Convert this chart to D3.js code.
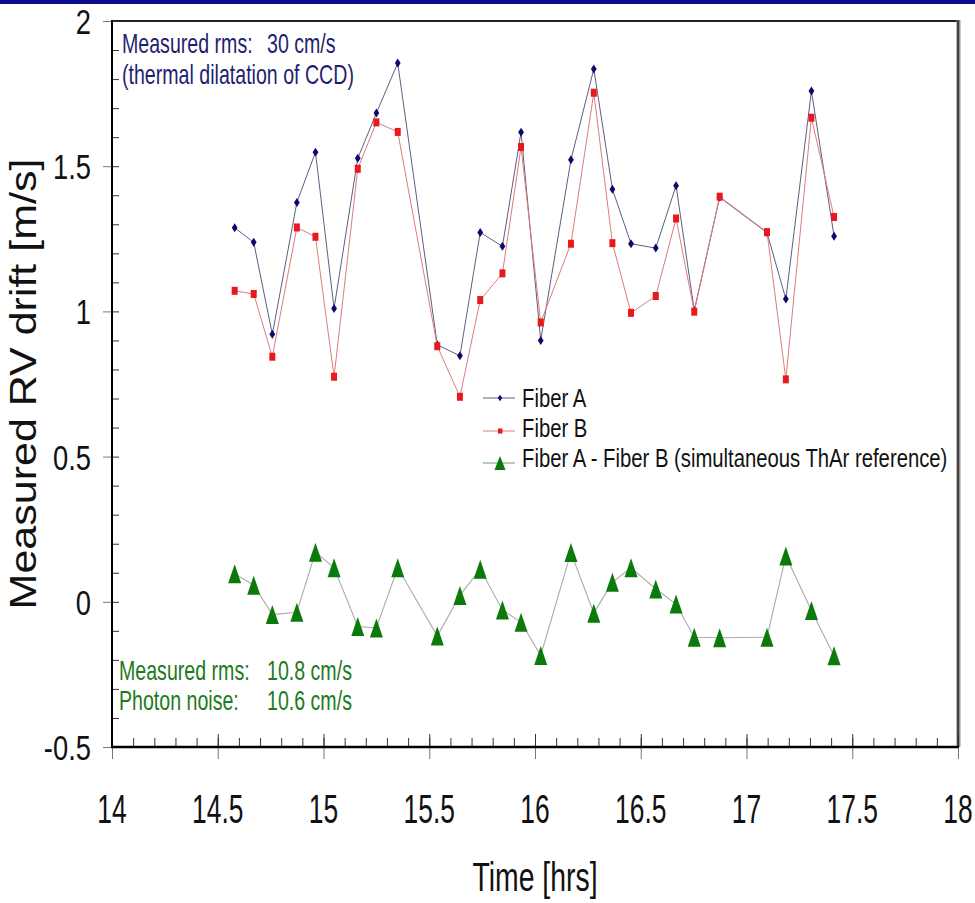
<!DOCTYPE html>
<html><head><meta charset="utf-8">
<script src="https://cdn.jsdelivr.net/npm/d3@7"></script>
<style>
body{margin:0;background:#fff}
svg{display:block}
text{font-family:"Liberation Sans",Arial,Helvetica,sans-serif}
</style>
</head><body>
<svg id="c" width="975" height="903"></svg>
<script>
// ---- data ----
const times = [14.580,14.670,14.758,14.874,14.962,15.050,15.162,15.250,15.351,15.538,15.645,15.741,15.846,15.934,16.027,16.170,16.278,16.366,16.454,16.571,16.667,16.753,16.873,17.097,17.186,17.307,17.414];
const fiberA = [1.288,1.238,0.921,1.375,1.548,1.010,1.527,1.683,1.855,0.885,0.847,1.272,1.224,1.617,0.900,1.522,1.835,1.421,1.233,1.218,1.433,1.003,1.393,1.271,1.043,1.759,1.259];
const fiberB = [1.071,1.060,0.844,1.289,1.257,0.775,1.491,1.651,1.618,0.880,0.706,1.039,1.131,1.566,0.962,1.233,1.753,1.235,0.995,1.053,1.320,0.999,1.395,1.273,0.766,1.667,1.325];
const diffAB = [0.097,0.057,-0.044,-0.036,0.171,0.117,-0.085,-0.090,0.117,-0.118,0.022,0.112,-0.028,-0.070,-0.185,0.170,-0.039,0.067,0.117,0.044,-0.008,-0.122,-0.124,-0.122,0.158,-0.030,-0.186];
const xTicks = [14,14.5,15,15.5,16,16.5,17,17.5,18];
const xTickLabels = ["14","14.5","15","15.5","16","16.5","17","17.5","18"];
const yTicks = [-0.5,0,0.5,1,1.5,2];
const yTickLabels = ["-0.5","0","0.5","1","1.5","2"];
const seriesNames = ["Fiber A","Fiber B","Fiber A - Fiber B (simultaneous ThAr reference)"];
const xTitle = "Time [hrs]";
const yTitle = "Measured RV drift [m/s]";
const noteTop = [["Measured rms:","30 cm/s"],["(thermal dilatation of CCD)",""]];
const noteBottom = [["Measured rms:","10.8 cm/s"],["Photon noise:","10.6 cm/s"]];

// ---- setup ----
const svg = d3.select("#c");
const L = 112, R = 958, T = 21, B = 747;
const x = d3.scaleLinear().domain([14,18]).range([L,R]);
const y = d3.scaleLinear().domain([-0.5,2]).range([B,T]);

function txt(g, px, py, s, size, sx, anchor, fill, extra){
  return g.append("text")
    .attr("transform",`translate(${px},${py}) scale(${sx},1)${extra||""}`)
    .attr("font-size",size).attr("text-anchor",anchor).attr("fill",fill).text(s);
}

// top banner bar
svg.append("rect").attr("x",0).attr("y",0).attr("width",975).attr("height",4).attr("fill","#0b0b8c");

// frame
svg.append("line").attr("x1",L).attr("x2",R).attr("y1",T).attr("y2",T).attr("stroke","#222").attr("stroke-width",2);
svg.append("line").attr("x1",R+0.5).attr("x2",R+0.5).attr("y1",T-1).attr("y2",B).attr("stroke","#9a9a9a").attr("stroke-width",4);
svg.append("line").attr("x1",R).attr("x2",R).attr("y1",T-1).attr("y2",B).attr("stroke","#444").attr("stroke-width",2.2);

// x axis
const minorX = d3.range(14,18.0001,0.1).map(v=>+v.toFixed(1));
svg.append("g").attr("transform",`translate(0,${B})`)
  .call(d3.axisTop(x).tickValues(minorX).tickSize(9).tickFormat("").tickSizeOuter(0))
  .call(g=>g.select(".domain").remove()).selectAll("line").attr("stroke","#333").attr("stroke-width",1);
svg.append("g").attr("transform",`translate(0,${B})`)
  .call(d3.axisTop(x).tickValues(xTicks).tickSize(13).tickFormat("").tickSizeOuter(0))
  .call(g=>g.select(".domain").remove()).selectAll("line").attr("stroke","#333").attr("stroke-width",1);
const xAx = svg.append("g").attr("transform",`translate(0,${B})`)
  .call(d3.axisBottom(x).tickValues(xTicks).tickSize(12).tickFormat("").tickSizeOuter(0));
xAx.select(".domain").remove();
xAx.selectAll("line").attr("stroke","#777").attr("stroke-width",1);

// y axis
const minorY = d3.range(-0.5,2.0001,0.1).map(v=>+v.toFixed(1));
svg.append("g").attr("transform",`translate(${L},0)`)
  .call(d3.axisRight(y).tickValues(minorY).tickSize(7).tickFormat("").tickSizeOuter(0))
  .call(g=>g.select(".domain").remove()).selectAll("line").attr("stroke","#333").attr("stroke-width",1);
const yAx = svg.append("g").attr("transform",`translate(${L},0)`)
  .call(d3.axisLeft(y).tickValues(yTicks).tickSize(9).tickFormat("").tickSizeOuter(0));
yAx.select(".domain").remove();
yAx.selectAll("line").attr("stroke","#777").attr("stroke-width",1);

svg.append("line").attr("x1",L).attr("x2",L).attr("y1",T-1).attr("y2",B+1).attr("stroke","#000").attr("stroke-width",2);
svg.append("line").attr("x1",L-1).attr("x2",R+1).attr("y1",B).attr("y2",B).attr("stroke","#000").attr("stroke-width",2.5);

// tick labels
xTicks.forEach((v,i)=>txt(svg, x(v), 823, xTickLabels[i], 40, 0.66, "middle", "#111"));
yTicks.forEach((v,i)=>txt(svg, 91, y(v)+13, yTickLabels[i], 36, 0.76, "end", "#111"));

// titles
txt(svg, (L+R)/2, 891, xTitle, 40, 0.71, "middle", "#111");
txt(svg, 36, (T+B)/2, yTitle, 43, 0.88, "middle", "#111", " rotate(-90)");

// annotations
const navy = "#1f1f70", dgreen = "#217a21";
txt(svg, 122, 53, noteTop[0][0], 28, 0.70, "start", navy);
txt(svg, 267, 53, noteTop[0][1], 28, 0.70, "start", navy);
txt(svg, 122, 84, noteTop[1][0], 28, 0.70, "start", navy);
txt(svg, 119, 680, noteBottom[0][0], 28, 0.70, "start", dgreen);
txt(svg, 267, 680, noteBottom[0][1], 28, 0.70, "start", dgreen);
txt(svg, 119, 710, noteBottom[1][0], 28, 0.70, "start", dgreen);
txt(svg, 267, 710, noteBottom[1][1], 28, 0.70, "start", dgreen);

// series
const line = d3.line().x(d=>x(d[0])).y(d=>y(d[1]));
const ptsA = times.map((t,i)=>[t,fiberA[i]]);
const ptsB = times.map((t,i)=>[t,fiberB[i]]);
const ptsD = times.map((t,i)=>[t,diffAB[i]]);
const blue = "#0a0a6e", red = "#e8191c", green = "#0b7a0b";
const diamond = (w,h)=>`M0,${-h}L${w},0L0,${h}L${-w},0Z`;
const tri = (w,h)=>`M0,${-h}L${w},${h}L${-w},${h}Z`;

svg.append("path").datum(ptsD).attr("d",line).attr("fill","none").attr("stroke","#a9aea9").attr("stroke-width",1.1);
svg.append("g").selectAll("path").data(ptsD).join("path")
  .attr("transform",d=>`translate(${x(d[0])},${y(d[1])})`).attr("d",tri(6.5,9.5)).attr("fill",green);

svg.append("path").datum(ptsA).attr("d",line).attr("fill","none").attr("stroke","#5e5e82").attr("stroke-width",1);
svg.append("g").selectAll("path").data(ptsA).join("path")
  .attr("transform",d=>`translate(${x(d[0])},${y(d[1])})`).attr("d",diamond(2.9,4.5)).attr("fill",blue);

svg.append("path").datum(ptsB).attr("d",line).attr("fill","none").attr("stroke","#e07a7a").attr("stroke-width",1);
svg.append("g").selectAll("rect").data(ptsB).join("rect")
  .attr("x",d=>x(d[0])-3).attr("y",d=>y(d[1])-4).attr("width",6).attr("height",8).attr("fill",red);

// legend
const lg = svg.append("g");
const rowsY = [398,431,463], baseY = [407,437,467];
const lineCols = ["#5e5e82","#e07a7a","#6a9a6a"];
seriesNames.forEach((n,i)=>{
  lg.append("line").attr("x1",483).attr("x2",515).attr("y1",rowsY[i]).attr("y2",rowsY[i]).attr("stroke",lineCols[i]).attr("stroke-width",1);
  txt(lg, 522, baseY[i], n, 26, 0.78, "start", "#111");
});
lg.append("path").attr("transform",`translate(500,${rowsY[0]})`).attr("d",diamond(2.2,3.2)).attr("fill",blue);
lg.append("rect").attr("x",498).attr("y",rowsY[1]-2.5).attr("width",4.5).attr("height",5).attr("fill",red);
lg.append("path").attr("transform",`translate(500,${rowsY[2]})`).attr("d",tri(5.5,7)).attr("fill",green);
</script>
</body></html>
